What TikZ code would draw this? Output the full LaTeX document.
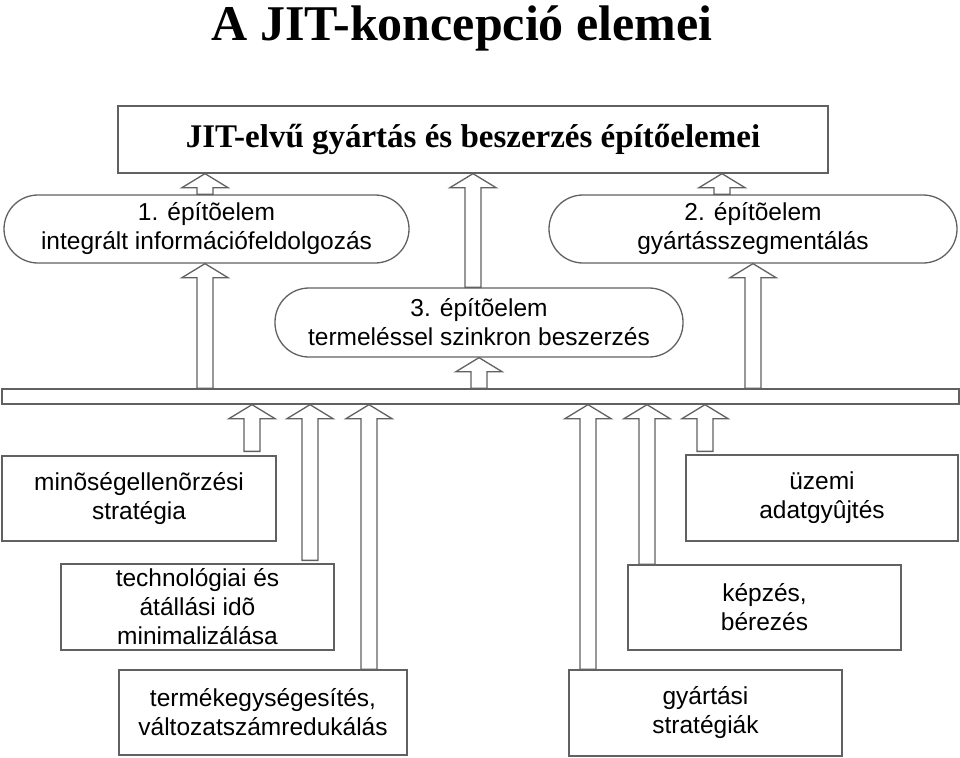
\documentclass[tikz,border=0pt]{standalone}
\usepackage{fontspec}
\setmainfont{Liberation Serif}
\newfontfamily\arialf{Liberation Sans}
\usetikzlibrary{calc}
\tikzset{
  ln/.style={draw=black!62, line width=1.3pt},
  boxn/.style={ln, fill=white, inner sep=0pt, align=center,
     font=\arialf\fontsize{24.5}{29}\selectfont},
  pill/.style={boxn, rounded corners=34pt},
  blk/.style={ln, fill=white, line join=miter},
}
% #1 x, #2 bottom anchor, #3 top anchor, #4 gap at bottom
\newcommand\blkarr[4]{%
  \draw[blk] ($(#1,0 |- #2)+(-8,-#4)$) -- ($(#1,0 |- #3)+(-8,14)$)
    -- ($(#1,0 |- #3)+(-23,14)$) -- (#1,0 |- #3)
    -- ($(#1,0 |- #3)+(23,14)$) -- ($(#1,0 |- #3)+(8,14)$)
    -- ($(#1,0 |- #2)+(8,-#4)$) -- cycle;}
\begin{document}
\begin{tikzpicture}[x=1pt,y=-1pt]
\useasboundingbox (0,0) rectangle (960,757);
% title
\node[anchor=base, font=\bfseries\fontsize{50}{56}\selectfont, inner sep=0pt] (title) at (462,41) {A JIT-koncepció elemei};
% top box
\node[ln, fill=white, minimum width=710pt, minimum height=67pt, inner sep=0pt,
      font=\bfseries\fontsize{33}{38}\selectfont] (top) at (473,139.5)
      {JIT-elvű gyártás és beszerzés építőelemei};
% pills
\node[pill, minimum width=405pt, minimum height=68pt] (b1) at (206.5,229)
  {1. építõelem\\integrált információfeldolgozás};
\node[pill, minimum width=408pt, minimum height=68pt] (b2) at (753,229)
  {2. építõelem\\gyártásszegmentálás};
\node[pill, minimum width=408pt, minimum height=69pt] (b3) at (479,322.5)
  {3. építõelem\\termeléssel szinkron beszerzés};
% bar
\node[ln, fill=white, minimum width=957pt, minimum height=15pt, inner sep=0pt] (bar) at (480.5,396.5) {};
% lower boxes
\node[boxn, minimum width=274pt, minimum height=85pt] (q) at (139,498.5)
  {minõségellenõrzési\\stratégia};
\node[boxn, minimum width=273pt, minimum height=86pt] (tech) at (197.5,607)
  {technológiai és\\átállási idõ\\minimalizálása};
\node[boxn, minimum width=288pt, minimum height=85pt] (term) at (263,712.5)
  {termékegységesítés,\\változatszámredukálás};
\node[boxn, minimum width=272pt, minimum height=86pt] (uz) at (822,498)
  {üzemi\\adatgyûjtés};
\node[boxn, minimum width=273pt, minimum height=85pt] (kep) at (764.5,607.5)
  {képzés,\\bérezés};
\node[boxn, minimum width=273pt, minimum height=86pt] (gy) at (705.5,713)
  {gyártási\\stratégiák};
% upper arrows
\blkarr{205}{bar.north}{b1.south}{0}
\blkarr{205}{b1.north}{top.south}{0}
\blkarr{473}{b3.north}{top.south}{0}
\blkarr{479}{bar.north}{b3.south}{0}
\blkarr{722}{b2.north}{top.south}{0}
\blkarr{753}{bar.north}{b2.south}{0}
% lower arrows
\blkarr{252}{q.north}{bar.south}{4}
\blkarr{310}{tech.north}{bar.south}{3}
\blkarr{369}{term.north}{bar.south}{0}
\blkarr{588}{gy.north}{bar.south}{0}
\blkarr{647}{kep.north}{bar.south}{0}
\blkarr{705}{uz.north}{bar.south}{3}
\end{tikzpicture}
\end{document}
